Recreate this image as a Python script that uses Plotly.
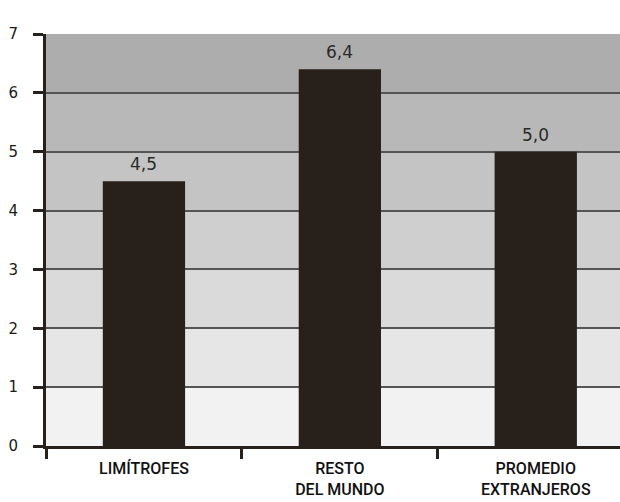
import plotly.graph_objects as go

categories = ["LIMÍTROFES", "RESTO<br>DEL MUNDO", "PROMEDIO<br>EXTRANJEROS"]
values = [4.5, 6.4, 5.0]
y_ticks = [0, 1, 2, 3, 4, 5, 6, 7]

# Horizontal background bands, lighter at the bottom, darker at the top
band_colors = ["#f2f2f2", "#e6e6e6", "#dadada", "#cfcfcf", "#c4c4c4", "#b8b8b8", "#adadad"]

dark = "#28201a"

fig = go.Figure()
fig.add_trace(go.Bar(
    x=categories,
    y=values,
    width=0.42,
    marker=dict(color=dark, line=dict(width=0)),
))

# Value labels above each bar, decimal comma
for cat, v in zip(categories, values):
    fig.add_annotation(
        x=cat, y=v, text=f"{v:.1f}".replace(".", ","),
        showarrow=False, yanchor="bottom", yshift=5,
        font=dict(family="DejaVu Sans", size=17, color="#2a2a2a"),
    )

shapes = []
for i, c in enumerate(band_colors):
    shapes.append(dict(type="rect", xref="paper", yref="y", x0=0, x1=1,
                       y0=y_ticks[i], y1=y_ticks[i + 1], fillcolor=c,
                       line=dict(width=0), layer="below"))

fig.update_layout(
    width=620, height=502,
    margin=dict(l=46, r=0, t=34, b=56),
    paper_bgcolor="white",
    plot_bgcolor="white",
    showlegend=False,
    shapes=shapes,
    xaxis=dict(
        type="category",
        range=[-0.5, 2.43],
        showgrid=False,
        showline=True, linecolor=dark, linewidth=3,
        ticks="outside", tickson="boundaries", ticklen=10, tickwidth=3, tickcolor=dark,
        ticklabelstandoff=6,
        tickfont=dict(family="Roboto", size=16, color="#111111", weight=500),
    ),
    yaxis=dict(
        range=[0, 7],
        tickvals=y_ticks,
        showgrid=True, gridcolor="#555555", gridwidth=1.5,
        zeroline=False,
        showline=True, linecolor=dark, linewidth=3,
        ticks="outside", ticklen=10, tickwidth=3, tickcolor=dark,
        ticklabelstandoff=12,
        tickfont=dict(family="DejaVu Sans", size=15, color="#1a1a1a"),
    ),
)

fig.write_html("out.html")
